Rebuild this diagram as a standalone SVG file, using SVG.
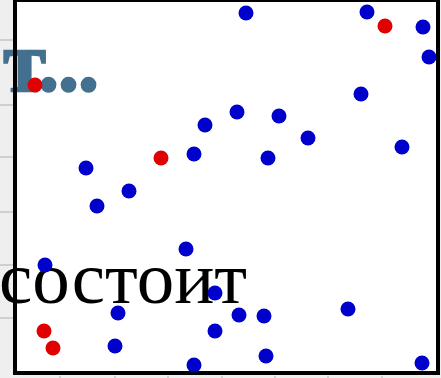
<svg xmlns="http://www.w3.org/2000/svg" width="441" height="378" viewBox="0 0 441 378">
<style>
.b{fill:#0000cc}
.r{fill:#e00000}
.grid{stroke:#cfcfcf;stroke-width:2}
</style>
<rect x="0" y="0" width="441" height="378" fill="#efefef"/>
<g id="margin-grid">
<line class="grid" x1="0" y1="40" x2="14" y2="40"/>
<line class="grid" x1="0" y1="105" x2="14" y2="105"/>
<line class="grid" x1="0" y1="157" x2="14" y2="157"/>
<line class="grid" x1="0" y1="212" x2="14" y2="212"/>
<line class="grid" x1="0" y1="265" x2="14" y2="265"/>
<line class="grid" x1="0" y1="318" x2="14" y2="318"/>
<line class="grid" x1="60" y1="376" x2="60" y2="378"/>
<line class="grid" x1="115" y1="376" x2="115" y2="378"/>
<line class="grid" x1="168" y1="376" x2="168" y2="378"/>
<line class="grid" x1="222" y1="376" x2="222" y2="378"/>
<line class="grid" x1="275" y1="376" x2="275" y2="378"/>
<line class="grid" x1="328" y1="376" x2="328" y2="378"/>
<line class="grid" x1="382" y1="376" x2="382" y2="378"/>
</g>
<rect id="box-fill" x="15" y="0" width="423" height="373" fill="#ffffff"/>
<text id="label-t" x="3" y="91" font-family="Liberation Serif, serif" font-weight="bold" font-size="88" letter-spacing="-2" fill="#44708f" stroke="#44708f" stroke-width="1.5">т...</text>
<text id="label-sostoit" x="-1" y="303" font-family="Liberation Serif, serif" font-size="75" fill="#000000">состоит</text>
<rect id="box" x="15" y="0" width="423" height="373" fill="none" stroke="#000000" stroke-width="4"/>
<g id="particles">
<circle class="b" cx="246" cy="13" r="7.5"/>
<circle class="b" cx="367" cy="12" r="7.5"/>
<circle class="b" cx="423" cy="27" r="7.5"/>
<circle class="b" cx="429" cy="57" r="7.5"/>
<circle class="b" cx="361" cy="94" r="7.5"/>
<circle class="b" cx="402" cy="147" r="7.5"/>
<circle class="b" cx="308" cy="138" r="7.5"/>
<circle class="b" cx="279" cy="116" r="7.5"/>
<circle class="b" cx="237" cy="112" r="7.5"/>
<circle class="b" cx="205" cy="125" r="7.5"/>
<circle class="b" cx="194" cy="154" r="7.5"/>
<circle class="b" cx="268" cy="158" r="7.5"/>
<circle class="b" cx="86" cy="168" r="7.5"/>
<circle class="b" cx="129" cy="191" r="7.5"/>
<circle class="b" cx="97" cy="206" r="7.5"/>
<circle class="b" cx="186" cy="249" r="7.5"/>
<circle class="b" cx="45" cy="265" r="7.5"/>
<circle class="b" cx="215" cy="293" r="7.5"/>
<circle class="b" cx="118" cy="313" r="7.5"/>
<circle class="b" cx="239" cy="315" r="7.5"/>
<circle class="b" cx="264" cy="316" r="7.5"/>
<circle class="b" cx="348" cy="309" r="7.5"/>
<circle class="b" cx="215" cy="331" r="7.5"/>
<circle class="b" cx="115" cy="346" r="7.5"/>
<circle class="b" cx="194" cy="365" r="7.5"/>
<circle class="b" cx="266" cy="356" r="7.5"/>
<circle class="b" cx="422" cy="363" r="7.5"/>
<circle class="r" cx="385" cy="26" r="7.5"/>
<circle class="r" cx="35" cy="85" r="7.5"/>
<circle class="r" cx="161" cy="158" r="7.5"/>
<circle class="r" cx="44" cy="331" r="7.5"/>
<circle class="r" cx="53" cy="348" r="7.5"/>
</g>
</svg>
